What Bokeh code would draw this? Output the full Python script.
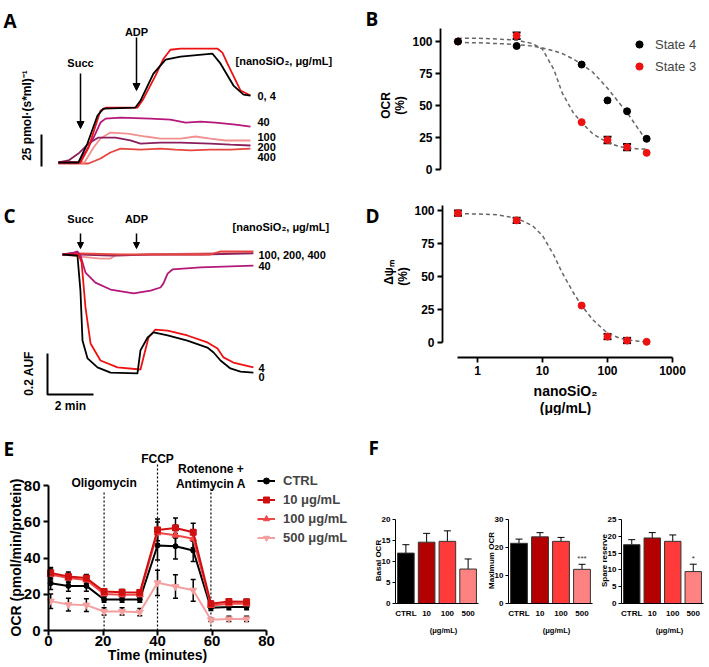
import math
from bokeh.plotting import figure
from bokeh.layouts import row, column
from bokeh.models import (Range1d, Label, Arrow, NormalHead, TeeHead,
                          Whisker, ColumnDataSource, Legend, LegendItem,
                          FixedTicker, PrintfTickFormatter)
from bokeh.embed import file_html
from bokeh.resources import INLINE

FONT = "Liberation Sans"
LFONT = "Open Sans"

# ---------------- Panel A: O2 flux traces (min, pmol/(s*ml)) ----------------
a0_t = [0.04, 0.91, 1.30, 1.74, 2.00, 3.39, 3.61, 4.17, 4.70, 5.35, 6.74, 7.09, 7.65, 8.09, 8.39]
a0_f = [0, 0, 14.8, 36.7, 42.1, 42.9, 48.4, 69.4, 80.3, 82.7, 85.0, 77.2, 60.1, 53.0, 52.3]
a4_t = [0.04, 1.0, 1.35, 1.87, 2.13, 3.48, 3.74, 4.26, 4.61, 4.91, 5.35, 6.96, 7.17, 7.39, 7.96, 8.39]
a4_f = [0, 0, 11.7, 40.6, 42.9, 42.9, 49.9, 67.9, 81.1, 88.1, 88.9, 88.9, 85.8, 77.2, 56.2, 52.3]
a40_t = [0.04, 0.91, 1.26, 1.57, 1.87, 2.09, 2.74, 4.04, 4.91, 5.57, 6.22, 6.87, 7.74, 8.39]
a40_f = [0, 0, 9.4, 19.5, 31.2, 34.3, 35.1, 34.3, 33.5, 31.2, 32.0, 31.2, 29.6, 28.1]
a100_t = [0.04, 1.17, 1.57, 1.87, 2.30, 3.04, 3.83, 4.48, 5.35, 6.0, 6.65, 7.30, 8.39]
a100_f = [0, 0, 11.7, 18.7, 23.4, 22.6, 20.3, 18.7, 18.7, 20.3, 18.7, 17.2, 17.2]
a200_t = [0.04, 0.48, 0.91, 1.35, 1.78, 2.52, 3.17, 3.61, 4.48, 5.35, 6.65, 7.52, 8.39]
a200_f = [0, 1.6, 7.0, 14.8, 19.5, 19.5, 17.2, 14.8, 15.6, 15.6, 14.8, 14.0, 13.3]
a400_t = [0.04, 1.35, 1.87, 2.30, 2.74, 3.61, 4.48, 5.13, 5.78, 6.65, 7.52, 8.39]
a400_f = [-0.8, -0.8, 3.1, 7.8, 10.9, 10.1, 10.9, 10.1, 9.4, 10.1, 10.1, 10.9]
a_labels = ["0, 4", "40", "100", "200", "400"]

# ---------------- Panel C: fluorescence traces (min, AUF) ----------------
c0_t = [0, 0.65, 0.78, 0.87, 1.09, 1.52, 2.09, 3.26, 3.39, 3.70, 3.96, 4.57, 5.43, 6.30, 6.57, 6.87, 7.30, 7.74, 8.30]
c0_s = [0, -0.005, -0.176, -0.420, -0.507, -0.551, -0.576, -0.580, -0.468, -0.405, -0.380, -0.395, -0.420, -0.454, -0.478, -0.517, -0.556, -0.571, -0.576]
c4_t = [0, 0.70, 0.83, 1.0, 1.22, 1.65, 2.39, 3.39, 3.52, 3.74, 4.04, 4.57, 5.43, 6.30, 6.74, 7.0, 7.43, 8.30]
c4_s = [0, 0, -0.039, -0.259, -0.434, -0.517, -0.551, -0.561, -0.502, -0.405, -0.366, -0.371, -0.395, -0.429, -0.459, -0.502, -0.527, -0.551]
c40_t = [0, 0.43, 0.65, 0.78, 1.0, 1.43, 2.09, 3.09, 3.83, 4.26, 4.39, 4.57, 4.78, 6.0, 8.30]
c40_s = [0, 0.005, 0.015, -0.005, -0.088, -0.137, -0.171, -0.190, -0.176, -0.161, -0.141, -0.093, -0.073, -0.063, -0.054]
c100_t = [0, 0.78, 1.65, 2.09, 2.30, 3.83, 6.0, 8.30]
c100_s = [0, -0.010, -0.020, -0.020, -0.005, 0, 0.005, 0.010]
c200_t = [0, 0.57, 0.78, 2.09, 3.83, 6.0, 8.30]
c200_s = [0, 0.010, 0, -0.005, 0, 0, 0.005]
c400_t = [0, 0.78, 2.52, 6.43, 6.87, 8.30]
c400_s = [0, 0.005, 0, 0, 0.015, 0.015]
c_labels = ["100, 200, 400", "40", "4", "0"]

# ---------------- Panels B and D: dose response ----------------
conc = [0.5, 4, 40, 100, 200, 400]
b_state4 = [100, 96.5, 82, 54, 45.5, 24]
b_state3 = [100, 104.5, 37, 23, 17.5, 13]
b_state3_err = [0, 2.5, 0, 2.5, 2.5, 0]
fit_x = [0.5, 1, 2, 4, 7, 10, 15, 20, 30, 40, 60, 100, 150, 200, 300, 400]
b_fit4 = [99.2, 99.0, 98.4, 97.7, 96.4, 95.0, 92.7, 90.6, 86.2, 82.3, 75.8, 63.5, 52.3, 44.5, 31.5, 22.4]
b_fit3 = [102.6, 102.6, 102.0, 101.0, 98.4, 94.0, 78.0, 60.0, 44.0, 36.7, 27.6, 21.1, 18.0, 16.7, 16.1, 15.9]
d_psi = [98, 92.5, 28, 4.5, 1.5, 0.5]
d_psi_err = [2, 2, 0, 2, 2, 0]
d_fit = [97.5, 97.4, 96.8, 94.2, 88.5, 81, 66, 53, 37.5, 28, 17, 7, 3.5, 2, 1, 0.6]
d_xticks = [1, 10, 100, 1000]
bd_yticks = [0, 25, 50, 75, 100]

# ---------------- Panel E: Seahorse OCR ----------------
e_time = [0.8, 7.3, 13.9, 20.4, 27.0, 33.5, 40.0, 46.6, 53.1, 59.6, 66.2, 72.7]
e_ctrl = [26.1, 24.6, 24.6, 17.1, 17.1, 17.1, 46.9, 46.5, 44.1, 12.5, 13.0, 13.0]
e_ctrl_err = [3.5, 3, 3, 1.5, 1.5, 1.5, 8, 7, 6, 1.5, 1.5, 1.5]
e_10 = [31.8, 29.8, 28.9, 21.5, 21.1, 21.0, 55.5, 56.6, 54.2, 14.7, 16.0, 15.8]
e_10_err = [3, 2.5, 2, 1.5, 1.5, 1.5, 6, 5.5, 5, 1.5, 1.5, 1.5]
e_100 = [30.9, 28.9, 27.9, 20.2, 19.7, 19.7, 53.9, 52.6, 50.6, 13.8, 14.7, 14.7]
e_100_err = [3, 2.5, 2, 1.5, 1.5, 1.5, 6, 5.5, 5, 1.5, 1.5, 1.5]
e_500 = [16.2, 14.3, 14.0, 10.5, 10.5, 10.1, 26.3, 24.3, 22.2, 5.9, 6.4, 6.4]
e_500_err = [4, 3.5, 3.5, 2, 2, 2, 7, 6.5, 6, 1, 1.5, 1.5]
e_series = ["CTRL", "10 \u03bcg/mL", "100 \u03bcg/mL", "500 \u03bcg/mL"]
e_ticks = [0, 20, 40, 60, 80]
injections = ["Oligomycin", "FCCP", "Rotenone +\nAntimycin A"]
inj_time = [20.4, 40.0, 59.6]
inj_top = [76.1, 92.1, 78.3]

# ---------------- Panel F: bars ----------------
f_cats = ["CTRL", "10", "100", "500"]
f_basal = [12.0, 14.6, 14.8, 8.2]
f_basal_err = [2.0, 2.1, 2.5, 2.4]
f_max = [21.5, 23.8, 22.2, 12.2]
f_max_err = [1.5, 1.5, 1.4, 1.8]
f_spare = [17.5, 19.5, 18.5, 9.5]
f_spare_err = [1.5, 1.6, 1.9, 2.2]
f_max_sig = ["", "", "", "***"]
f_spare_sig = ["", "", "", "*"]
f_colors = ["#000000", "#b30000", "#ff3a3a", "#ff8282"]


# ---------- geometry helpers (page pixel layout -> data coordinates) ----------
def xlin(p0, ppu):
    return lambda px: (px - p0) / ppu


def ylin(p0, ppu):
    return lambda py: (p0 - py) / ppu


def xlog(p0, ppd):
    return lambda px: 10 ** ((px - p0) / ppd)


def make_fig(box, mx, my, x_type="linear", xloc=None, yloc=None):
    x0, x1, y0, y1 = box
    p = figure(width=x1 - x0, height=y1 - y0,
               x_range=Range1d(mx(x0), mx(x1)), y_range=Range1d(my(y1), my(y0)),
               x_axis_type=x_type, x_axis_location=xloc, y_axis_location=yloc,
               toolbar_location=None, output_backend="svg", title=None,
               min_border_left=0, min_border_right=0,
               min_border_top=0, min_border_bottom=0)
    p.xgrid.visible = False
    p.ygrid.visible = False
    p.outline_line_color = None
    return p


def lab(p, x, y, text, size, bold=True, align="left", baseline="middle",
        angle=0.0, font=FONT, color="black"):
    p.add_layout(Label(x=x, y=y, text=text, text_font=font,
                       text_font_size=f"{size}px",
                       text_font_style="bold" if bold else "normal",
                       text_align=align, text_baseline=baseline,
                       angle=angle, text_color=color))


def style_axis(ax, size, lw=1.5, tick_out=5, standoff=3):
    ax.axis_line_color = "black"
    ax.axis_line_width = lw
    ax.major_tick_line_color = "black"
    ax.major_tick_line_width = lw
    ax.major_tick_out = tick_out
    ax.major_tick_in = 0
    ax.minor_tick_line_color = None
    ax.major_label_text_font = FONT
    ax.major_label_text_font_size = f"{size}px"
    ax.major_label_text_font_style = "bold"
    ax.major_label_text_color = "black"
    ax.major_label_standoff = standoff


def whisk(p, base, vals, errs, size=8, lw=1.5, lower_head=True):
    b = [x for x, e in zip(base, errs) if e > 0]
    v = [y for y, e in zip(vals, errs) if e > 0]
    e2 = [e for e in errs if e > 0]
    src = ColumnDataSource(dict(base=b, upper=[y + e for y, e in zip(v, e2)],
                                lower=[y - e if lower_head else y for y, e in zip(v, e2)]))
    w = Whisker(source=src, base="base", upper="upper", lower="lower",
                dimension="height", line_color="black", line_width=lw,
                upper_head=TeeHead(size=size, line_width=lw, line_color="black"),
                lower_head=TeeHead(size=size, line_width=lw, line_color="black") if lower_head else None)
    p.add_layout(w)


# page boxes (left, right, top, bottom)
BOX_A = (0, 357, 0, 188)
BOX_B = (357, 707, 0, 188)
BOX_C = (0, 357, 188, 415)
BOX_D = (357, 707, 188, 415)
BOX_E = (0, 357, 415, 665)
BOX_F = [(357, 483, 415, 665), (483, 596, 415, 665), (596, 707, 415, 665)]

# ======================= Panel A =======================
mx, my = xlin(57, 23), ylin(162, 1.28)
pA = make_fig(BOX_A, mx, my)
for t, f, c in [(a400_t, a400_f, "#e6463f"), (a100_t, a100_f, "#f29090"),
                (a200_t, a200_f, "#8a1f5c"), (a40_t, a40_f, "#b5177a"),
                (a4_t, a4_f, "#ee1111"), (a0_t, a0_f, "#000000")]:
    pA.line(t, f, line_color=c, line_width=1.8)
for txt, py in zip(a_labels, [95, 121, 136, 146, 156]):
    lab(pA, mx(257), my(py), txt, 11)
lab(pA, mx(235), my(60), "[nanoSiO\u2082, \u03bcg/mL]", 11)
lab(pA, mx(80), my(62), "Succ", 11, align="center")
lab(pA, mx(136), my(31), "ADP", 11, align="center")
for px, p0, p1 in [(80, 73, 128), (136, 37, 90)]:
    pA.add_layout(Arrow(end=NormalHead(size=7, fill_color="black", line_color="black"),
                        x_start=mx(px), y_start=my(p0), x_end=mx(px), y_end=my(p1),
                        line_width=1.5))
pA.line([mx(41), mx(41)], [my(166), my(166) + 25], line_color="black", line_width=2)
lab(pA, mx(26), my(115), "25 pmol\u00b7(s*ml)\u207b\u00b9", 12, align="center", angle=math.pi / 2)
lab(pA, mx(3), my(20), "A", 19, baseline="alphabetic", font=LFONT)

# ======================= Panel B =======================
mx, my = xlog(477, 65), ylin(169, 1.28)
pB = make_fig(BOX_B, mx, my, x_type="log", yloc="left")
yax = pB.yaxis[0]
style_axis(yax, 12, lw=1.8)
yax.ticker = FixedTicker(ticks=bd_yticks)
yax.fixed_location = mx(440)
yax.bounds = (0, my(28))
pB.line(fit_x, b_fit4, line_dash="4 3", line_color="#666666", line_width=1.5)
pB.line(fit_x, b_fit3, line_dash="4 3", line_color="#666666", line_width=1.5)
whisk(pB, conc, b_state3, b_state3_err, size=8, lw=2)
r3 = pB.scatter(conc, b_state3, size=7, fill_color="#ee1111", line_color="#ee1111")
r4 = pB.scatter(conc, b_state4, size=7, fill_color="black", line_color="black")
legB = Legend(items=[LegendItem(label="State 4", renderers=[r4]),
                     LegendItem(label="State 3", renderers=[r3])],
              location=(630 - BOX_B[0], BOX_B[3] - 75), glyph_width=18, glyph_height=18,
              label_height=18, spacing=4, padding=0, margin=0, label_standoff=7,
              border_line_color=None, background_fill_alpha=0,
              label_text_font=FONT, label_text_font_size="13px")
pB.add_layout(legB)
lab(pB, mx(385), my(105), "OCR", 12, align="center", angle=math.pi / 2)
lab(pB, mx(399), my(105), "(%)", 12, align="center", angle=math.pi / 2)
lab(pB, mx(365), my(18), "B", 19, baseline="alphabetic", font=LFONT)

# ======================= Panel C =======================
mx, my = xlin(62, 23), ylin(254, 205)
pC = make_fig(BOX_C, mx, my)
for t, s, c in [(c100_t, c100_s, "#f29090"), (c200_t, c200_s, "#8a1f5c"),
                (c400_t, c400_s, "#e6463f"), (c40_t, c40_s, "#b5177a"),
                (c4_t, c4_s, "#ee1111"), (c0_t, c0_s, "#000000")]:
    pC.line(t, s, line_color=c, line_width=1.8)
for txt, py in zip(c_labels, [254, 265, 367, 376]):
    lab(pC, mx(258), my(py), txt, 11)
lab(pC, mx(232), my(226), "[nanoSiO\u2082, \u03bcg/mL]", 11)
lab(pC, mx(80), my(218), "Succ", 11, align="center")
lab(pC, mx(136), my(218), "ADP", 11, align="center")
for px in [80, 136]:
    pC.add_layout(Arrow(end=NormalHead(size=6, fill_color="black", line_color="black"),
                        x_start=mx(px), y_start=my(233), x_end=mx(px), y_end=my(248),
                        line_width=1.5))
sb_t0, sb_s0 = mx(47), my(394)
pC.line([sb_t0, sb_t0, sb_t0 + 2], [sb_s0 + 0.2, sb_s0, sb_s0], line_color="black", line_width=2)
lab(pC, mx(28), my(373), "0.2 AUF", 12, align="center", angle=math.pi / 2)
lab(pC, mx(70), my(405), "2 min", 12, align="center")
lab(pC, mx(3), my(215), "C", 19, baseline="alphabetic", font=LFONT)

# ======================= Panel D =======================
mx, my = xlog(477, 65), ylin(342, 1.32)
pD = make_fig(BOX_D, mx, my, x_type="log", xloc="below", yloc="left")
yax, xax = pD.yaxis[0], pD.xaxis[0]
style_axis(yax, 12, lw=1.8)
style_axis(xax, 12, lw=1.8)
yax.ticker = FixedTicker(ticks=bd_yticks)
yax.fixed_location = mx(442)
yax.bounds = (0, my(205))
xax.ticker = FixedTicker(ticks=d_xticks)
xax.formatter = PrintfTickFormatter(format="%d")
xax.fixed_location = my(357)
xax.bounds = (mx(457), 1000)
pD.line(fit_x, d_fit, line_dash="4 3", line_color="#666666", line_width=1.5)
whisk(pD, conc, d_psi, d_psi_err, size=8, lw=2)
pD.scatter(conc, d_psi, size=7, fill_color="#ee1111", line_color="#ee1111")
lab(pD, mx(388), my(272), "\u0394\u03c8\u2098", 12, align="center", angle=math.pi / 2)
lab(pD, mx(402), my(276), "(%)", 12, align="center", angle=math.pi / 2)
lab(pD, mx(565), my(390), "nanoSiO\u2082", 14, align="center")
lab(pD, mx(565), my(407), "(\u03bcg/mL)", 14, align="center")
lab(pD, mx(365), my(215), "D", 19, baseline="alphabetic", font=LFONT)

# ======================= Panel E =======================
mx, my = xlin(48, 2.725), ylin(630, 1.8125)
pE = make_fig(BOX_E, mx, my, xloc="below", yloc="left")
yax, xax = pE.yaxis[0], pE.xaxis[0]
style_axis(xax, 15, lw=2, tick_out=5, standoff=0)
style_axis(yax, 15, lw=2, tick_out=5, standoff=3)
xax.ticker = FixedTicker(ticks=e_ticks)
yax.ticker = FixedTicker(ticks=e_ticks)
xax.fixed_location = 0
yax.fixed_location = 0
xax.bounds = (0, 80)
yax.bounds = (0, 80)
pE.segment(x0=inj_time, y0=[0] * 3, x1=inj_time, y1=inj_top,
           line_dash="2 2", line_color="black", line_width=1.2)
e_specs = [(e_500, e_500_err, "#f4a0a0", "inverted_triangle", 7),
           (e_ctrl, e_ctrl_err, "#000000", "circle", 5),
           (e_100, e_100_err, "#f04848", "triangle", 7),
           (e_10, e_10_err, "#d01010", "square", 6)]
rends = []
for vals, errs, col, mk, sz in e_specs:
    ln = pE.line(e_time, vals, line_color=col, line_width=2)
    sc = pE.scatter(e_time, vals, marker=mk, size=sz, fill_color=col, line_color=col)
    rends.append([ln, sc])
for vals, errs, col, mk, sz in e_specs:
    whisk(pE, e_time, vals, errs, size=5, lw=1.5)
order = [1, 3, 2, 0]
legE = Legend(items=[LegendItem(label=e_series[i], renderers=rends[j])
                     for i, j in enumerate(order)],
              location=(257 - BOX_E[0], BOX_E[3] - 544.5), glyph_width=18, glyph_height=15,
              label_height=15, spacing=4, padding=0, margin=0, label_standoff=8,
              border_line_color=None, background_fill_alpha=0,
              label_text_font=FONT, label_text_font_size="13px",
              label_text_font_style="bold")
pE.add_layout(legE)
rot1, rot2 = injections[2].split("\n")
lab(pE, inj_time[0], my(482), injections[0], 12, align="center")
lab(pE, inj_time[1], my(458), injections[1], 12, align="center")
lab(pE, inj_time[2], my(468), rot1, 12, align="center")
lab(pE, inj_time[2], my(483), rot2, 12, align="center")
lab(pE, mx(157), my(654), "Time (minutes)", 14, align="center")
lab(pE, mx(15), my(557), "OCR (pmol/min/protein)", 14, align="center", angle=math.pi / 2)
lab(pE, mx(3), my(448), "E", 19, baseline="alphabetic", font=LFONT)


# ======================= Panel F =======================
def bar_panel(box, axis_px, ppu_x, ymax, ticks, vals, errs, ylabel, sig, letter=False):
    mx, my = xlin(axis_px, ppu_x), ylin(603, 84 / ymax)
    p = make_fig(box, mx, my, xloc="below", yloc="left")
    yax, xax = p.yaxis[0], p.xaxis[0]
    style_axis(yax, 8, lw=1, tick_out=3, standoff=2)
    style_axis(xax, 8, lw=1, tick_out=0, standoff=5)
    xax.major_tick_line_color = None
    yax.ticker = FixedTicker(ticks=ticks)
    yax.fixed_location = 0
    yax.bounds = (0, ymax)
    xs = [i + 0.5 for i in range(len(f_cats))]
    xax.ticker = FixedTicker(ticks=xs)
    xax.major_label_overrides = {x: c for x, c in zip(xs, f_cats)}
    xax.fixed_location = 0
    xax.bounds = (0, len(f_cats))
    whisk(p, xs, vals, errs, size=7, lw=1, lower_head=False)
    p.vbar(x=xs, top=vals, width=0.8, fill_color=f_colors, line_color="#333333", line_width=1)
    sig_x = [x for x, s in zip(xs, sig) if s]
    sig_y = [v + e + ymax * 0.02 for v, e, s in zip(vals, errs, sig) if s]
    sig_t = [s for s in sig if s]
    if sig_t:
        p.text(x=sig_x, y=sig_y, text=sig_t, text_align="center", text_baseline="bottom",
               text_font_size="8px", text_color="#333333")
    lab(p, mx(axis_px - 17), my(560), ylabel, 8, align="center", angle=math.pi / 2)
    lab(p, mx(axis_px + 48), my(630), "(\u03bcg/mL)", 7.5, align="center")
    if letter:
        lab(p, mx(368), my(447), "F", 19, baseline="alphabetic", font=LFONT)
    return p


pF1 = bar_panel(BOX_F[0], 395, 20.75, 20, [0, 5, 10, 15, 20],
                f_basal, f_basal_err, "Basal OCR", ["", "", "", ""], letter=True)
pF2 = bar_panel(BOX_F[1], 508, 21, 30, [0, 10, 20, 30],
                f_max, f_max_err, "Maximum OCR", f_max_sig)
pF3 = bar_panel(BOX_F[2], 621, 20.5, 25, [0, 5, 10, 15, 20, 25],
                f_spare, f_spare_err, "Spare reserve", f_spare_sig)

layout = column(row(pA, pB, spacing=0),
                row(pC, pD, spacing=0),
                row(pE, pF1, pF2, pF3, spacing=0), spacing=0)

open("out.html", "w").write(file_html(layout, INLINE))
